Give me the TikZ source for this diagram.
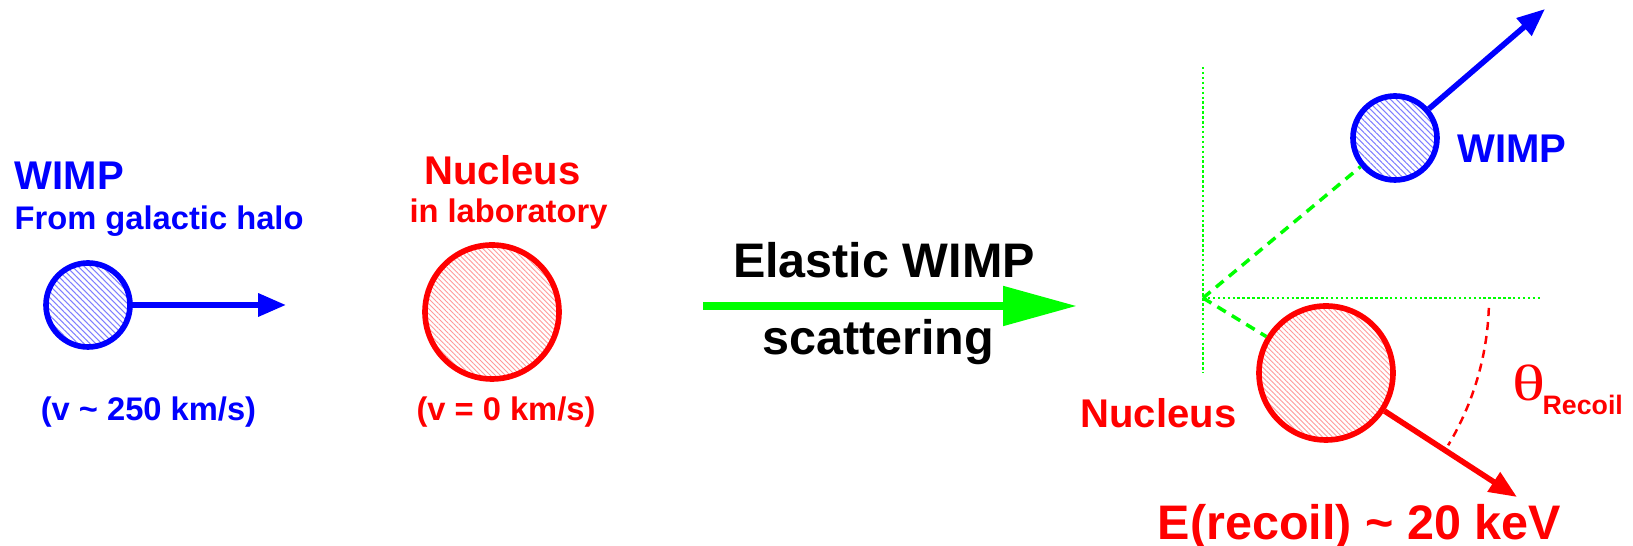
\documentclass[tikz,border=0pt]{standalone}
\usepackage{fontspec}
\setmainfont{Liberation Sans}
\newfontfamily\greekfont{Liberation Serif}
\usetikzlibrary{arrows.meta, patterns.meta}

\begin{document}
\begin{tikzpicture}[
        wimpball/.style={circle, draw=blue, line width=1.6pt, inner sep=0pt, minimum size=0.84cm,
            pattern={Lines[angle=-45, distance=1.2pt, line width=0.3pt]}, pattern color=blue!50},
        nucball/.style={circle, draw=red, line width=1.6pt, inner sep=0pt, minimum size=1.34cm,
            pattern={Lines[angle=-45, distance=1pt, line width=0.25pt]}, pattern color=red!40},
        bigtext/.style={font=\bfseries\fontsize{11.4}{13}\selectfont, inner sep=0pt},
        smalltext/.style={font=\bfseries\fontsize{9.3}{11}\selectfont, inner sep=0pt},
        hugetext/.style={font=\bfseries\fontsize{13.8}{16}\selectfont, inner sep=0pt},
        move/.style={line width=1.6pt, -{Triangle[length=7.9pt, width=6.3pt]}},
        axis/.style={green, line width=0.8pt, dash pattern=on 0.7pt off 0.7pt},
        track/.style={green, line width=1pt, dash pattern=on 2.8pt off 2pt}
    ]
        \useasboundingbox (0, 0) rectangle (16.33, 5.46);

        \node[wimpball] (w1) at (0.88, 2.41) {};
        \coordinate (w1end) at (2.86, 2.41);
        \draw[move, blue] (w1) -- (w1end);
        \node[bigtext, blue, anchor=base west] (w1name) at (0.14, 3.56) {WIMP};
        \node[smalltext, blue, anchor=base west] (w1from) at (0.14, 3.16) {From galactic halo};
        \node[smalltext, blue, anchor=base] (w1v) at (1.485, 1.25) {(v \textasciitilde{} 250 km/s)};

        \node[nucball] (n1) at (4.92, 2.34) {};
        \node[bigtext, red, anchor=base] (n1name) at (5.025, 3.61) {Nucleus};
        \node[smalltext, red, anchor=base] (n1lab) at (5.085, 3.23) {in laboratory};
        \node[smalltext, red, anchor=base] (n1v) at (5.06, 1.25) {(v = 0 km/s)};

        \coordinate (s1) at (7.03, 2.40);
        \coordinate (s2) at (10.77, 2.40);
        \draw[green, line width=2.3pt, -{Triangle[length=21pt, width=10.8pt]}] (s1) -- (s2);
        \node[hugetext, anchor=base] (elastic) at (8.84, 2.68) {Elastic WIMP};
        \node[hugetext, anchor=base] (scatter) at (8.78, 1.91) {scattering};

        \coordinate (O) at (12.03, 2.48);
        \coordinate (ytop) at (12.03, 4.79);
        \coordinate (ybot) at (12.03, 1.73);
        \coordinate (xend) at (15.42, 2.48);
        \draw[axis] (ytop) -- (ybot);
        \draw[axis] (O) -- (xend);

        \node[wimpball] (w2) at (13.95, 4.08) {};
        \node[nucball] (n2) at (13.26, 1.73) {};
        \draw[track] (O) -- (w2);
        \draw[track] (O) -- (n2);

        \coordinate (w2end) at (15.45, 5.37);
        \coordinate (n2end) at (15.17, 0.49);
        \draw[move, blue] (w2) -- (w2end);
        \draw[move, red] (n2) -- (n2end);

        \draw[red, line width=0.7pt, dash pattern=on 2.3pt off 1.7pt]
            ([shift={(-2:2.86)}]O) arc[start angle=-2, end angle=-31, radius=2.86];

        \node[bigtext, blue, anchor=base] (w2name) at (15.12, 3.83) {WIMP};
        \node[bigtext, red, anchor=base east] (n2name) at (12.37, 1.18) {Nucleus};
        \node[red, anchor=base west, inner sep=0pt, font=\greekfont\fontsize{14.5}{17}\selectfont] (theta) at (15.12, 1.45)
            {\scalebox{1.35}[1]{θ}};
        \node[red, anchor=base west, inner sep=0pt, font=\bfseries\fontsize{7.6}{9}\selectfont] (recoil) at (15.42, 1.31) {Recoil};
        \node[hugetext, red, anchor=base] (erecoil) at (13.595, 0.06) {E(recoil) \textasciitilde{} 20 keV};
    \end{tikzpicture}
\end{document}
